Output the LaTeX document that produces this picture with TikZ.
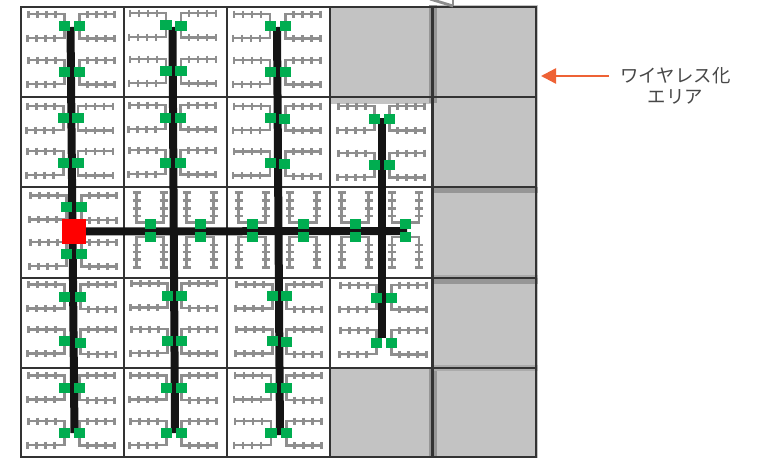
\documentclass[tikz,border=0pt]{standalone}
\usepackage{fontspec}
\newfontfamily\jpfont{Noto Sans CJK JP}
\usetikzlibrary{arrows.meta}
\definecolor{gridc}{HTML}{333333}
\definecolor{cellgray}{HTML}{C3C3C3}
\definecolor{bandgray}{HTML}{969696}
\definecolor{bandlight}{HTML}{ABABAB}
\definecolor{branchc}{HTML}{8E8E8E}
\definecolor{apgreen}{HTML}{00AD50}
\definecolor{trunkc}{HTML}{141414}
\definecolor{arrowc}{HTML}{EE6235}
\tikzset{
  gridline/.style={draw=gridc,line width=2.6pt},
  branch/.style={draw=branchc,line width=2.1pt},
  trunk/.style={draw=trunkc,line width=8pt},
  apbox/.style={fill=apgreen,draw=none,minimum width=11.5pt,minimum height=10pt,inner sep=0pt,outer sep=0pt},
  apboxh/.style={fill=apgreen,draw=none,minimum width=11pt,minimum height=10.5pt,inner sep=0pt,outer sep=0pt},
  rootbox/.style={fill=red,draw=none,minimum width=24pt,minimum height=24.5pt,inner sep=0pt,outer sep=0pt},
  lbl/.style={font=\jpfont\fontsize{18.4}{21}\selectfont,text=black!72,align=center,inner sep=0pt},
}
% branches of a vertical pair: left x, right x, y
\newcommand{\bv}[3]{%
  \draw[branch] (#1-36,#3-12) -- (#1,#3-12) -- (#1,#3+12) -- (#1-37,#3+12);
  \draw[branch] (#2+35,#3-12) -- (#2,#3-12) -- (#2,#3+12.5) -- (#2+35,#3+12.5);
  \foreach \t in {9,18,27,36}{
    \draw[branch] (#1-\t,#3-15.5) -- (#1-\t,#3-8.5);
    \draw[branch] (#1-\t-1,#3+8.5) -- (#1-\t-1,#3+15.5);
    \draw[branch] (#2+\t-1,#3-15.5) -- (#2+\t-1,#3-8.5);
    \draw[branch] (#2+\t-1,#3+9) -- (#2+\t-1,#3+16);
  }}
% greens of a vertical pair: name, left x, right x, left y, right y
\newcommand{\gv}[5]{%
  \node[apbox] (#1l) at (#2,#4) {};
  \node[apbox] (#1r) at (#3,#5) {};}
% branches of a horizontal pair at x
\newcommand{\bh}[1]{%
  \draw[branch] (#1-13.5,192.5) -- (#1-13.5,222.5) -- (#1+13.5,222.5) -- (#1+13.5,192.5);
  \draw[branch] (#1-13.5,267.5) -- (#1-13.5,237) -- (#1+13.5,237) -- (#1+13.5,267.5);
  \foreach \t in {192.5,200.5,208.5,216}{
    \draw[branch] (#1-17.5,\t) -- (#1-9.5,\t);
    \draw[branch] (#1+9.5,\t) -- (#1+17.5,\t);}
  \foreach \t in {245,252,259.5,267.5}{
    \draw[branch] (#1-17.5,\t) -- (#1-9.5,\t);
    \draw[branch] (#1+9.5,\t) -- (#1+17.5,\t);}}
\newcommand{\gh}[2]{%
  \node[apboxh] (#1u) at (#2,224) {};
  \node[apboxh] (#1d) at (#2,237) {};}
\begin{document}
\begin{tikzpicture}[x=1pt,y=-1pt]
\useasboundingbox (0,0) rectangle (764,458);
% gray wireless area
\fill[cellgray] (330,6) rectangle (433,104);
\fill[cellgray] (433,5) rectangle (538,458);
\fill[cellgray] (330,368) rectangle (433,458);
\fill[bandgray] (429,5) rectangle (436.5,103);
\fill[bandgray] (429,368) rectangle (436.5,458);
\fill[bandgray] (433,187) rectangle (538,192.5);
\fill[bandlight] (433,275) rectangle (538,278);
\fill[bandgray] (433,278) rectangle (538,284);
\fill[bandlight] (433,364.5) rectangle (538,371);
% grid
\foreach \x in {21,124,227,330,432.5,536}{\draw[gridline] (\x,7) -- (\x,458);}
\foreach \y in {7,97,187,278,368}{\draw[gridline] (20,\y) -- (537,\y);}
\draw[gridline] (20,457.5) -- (537,457.5);
\draw[draw=branchc,line width=2.8pt] (430,-1) -- (453,6);
\draw[draw=branchc,line width=2.8pt] (453,-1) -- (453,6);
% branches
\bv{64.5}{79.5}{26}\bv{64.5}{79.5}{72}
\bv{166}{181}{25}\bv{166}{181}{71}
\bv{270}{285.5}{26}\bv{270}{285.5}{72}
\bv{63.5}{78}{118}\bv{63.5}{78}{163}
\bv{165.5}{180.5}{117}\bv{165.5}{180.5}{162}
\bv{270}{285.5}{118}\bv{270}{285.5}{163.5}
\bv{374.5}{389.5}{118}\bv{374.5}{389.5}{165}
\bv{66.5}{81.5}{207.5}\bv{66.5}{81.5}{254}
\bh{150}\bh{200}\bh{252}\bh{303}\bh{355}\bh{405.5}
\bv{64.5}{80.5}{296.5}\bv{64.5}{80.5}{341.5}
\bv{167.5}{181.5}{295.5}\bv{167.5}{181.5}{341}
\bv{272.5}{286.5}{296.5}\bv{272.5}{286.5}{341.5}
\bv{376.5}{391.5}{297}\bv{376.5}{391.5}{342}
\bv{64.5}{79.5}{387.5}\bv{64.5}{79.5}{433}
\bv{166.5}{181.5}{387.5}\bv{166.5}{181.5}{433}
\bv{271}{286.5}{387.5}\bv{271}{286.5}{433}
% trunk ends
\coordinate (t1a) at (70.5,27);
\coordinate (t1b) at (74.5,433);
\coordinate (t2a) at (172.5,27);
\coordinate (t2b) at (175,433);
\coordinate (t3a) at (277,27);
\coordinate (t3b) at (280,435);
\coordinate (t4a) at (382,118);
\coordinate (t4b) at (382,338);
\coordinate (hE) at (407,231);
\node[rootbox] (root) at (74,231.5) {};
\draw[trunk] (t1a) -- (t1b);
\draw[trunk] (t2a) -- (t2b);
\draw[trunk] (t3a) -- (t3b);
\draw[trunk] (t4a) -- (t4b);
\draw[trunk] (root.center) -- (hE);
% access points
\gv{a1}{64.5}{79.5}{26}{26}\gv{a2}{64.5}{79.5}{72}{72}
\gv{b1}{166}{181}{25.3}{26.3}\gv{b2}{166}{181}{71.3}{71.3}
\gv{c1}{270.5}{285.5}{26}{26}\gv{c2}{270.5}{285.5}{72}{72}
\gv{d1}{63.5}{78}{118}{118}\gv{d2}{63.5}{78}{163}{163}
\gv{e1}{165.5}{180.5}{117.5}{117.5}\gv{e2}{165.5}{180.5}{162.5}{162.5}
\gv{f1}{270.5}{284.5}{118}{118.5}\gv{f2}{270.5}{284.5}{163.3}{164.3}
\gv{g1}{374.5}{389.5}{118.5}{118.5}\gv{g2}{374.5}{389.5}{165}{165}
\gv{h1}{66.5}{81.5}{207.3}{207.3}\gv{h2}{66.5}{81.5}{253.5}{254}
\gh{i1}{150}\gh{i2}{200}\gh{i3}{252}\gh{i4}{303}\gh{i5}{355}\gh{i6}{405.5}
\gv{j1}{64.5}{80.5}{296.5}{296.5}\gv{j2}{64.5}{80.5}{341.3}{342.5}
\gv{k1}{167.5}{181.5}{295.5}{295.5}\gv{k2}{167.5}{181.5}{341.3}{341.3}
\gv{l1}{272.5}{286.5}{296.3}{296.3}\gv{l2}{272.5}{286.5}{341}{342}
\gv{m1}{376.5}{391.5}{297.5}{297.5}\gv{m2}{376.5}{391.5}{342.5}{343}
\gv{n1}{64.5}{79.5}{387.7}{387.7}\gv{n2}{64.5}{79.5}{433.3}{433.3}
\gv{o1}{166.5}{181.5}{387.7}{387.7}\gv{o2}{166.5}{181.5}{433.3}{433}
\gv{p1}{271}{286.5}{387.7}{387.7}\gv{p2}{271}{286.5}{433.3}{433.3}
\node[rootbox] (rootTop) at (74,231.5) {};
% label and arrow
\node[lbl] (label) at (675.5,85.5) {ワイヤレス化\\エリア};
\coordinate (arrowS) at (609,76);
\coordinate (arrowE) at (541,76);
\draw[draw=arrowc,line width=2.4pt,-{Triangle[length=15pt,width=15pt]}] (arrowS) -- (arrowE);
\end{tikzpicture}
\end{document}
